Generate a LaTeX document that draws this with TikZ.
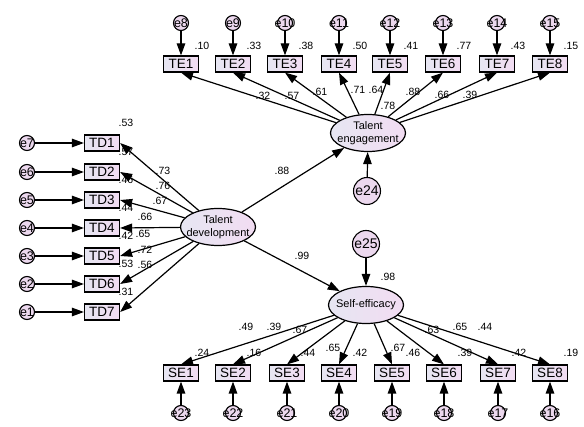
\documentclass[tikz,border=0pt]{standalone}
\usepackage{fontspec}
\setmainfont{Liberation Sans}
\usetikzlibrary{arrows.meta, shapes.geometric, positioning}

\definecolor{boxl}{HTML}{E6E6F2}
\definecolor{boxr}{HTML}{F2DCF2}
\definecolor{errc}{HTML}{ECD8EE}

\begin{document}
\begin{tikzpicture}[x=1pt, y=-1pt,
    obs/.style={draw, line width=1.2pt, left color=boxl, right color=boxr, minimum width=35pt, minimum height=16pt, inner sep=0pt, font=\fontsize{13.5}{13.5}\selectfont},
    err/.style={circle, draw, line width=1.1pt, fill=errc, minimum size=15pt, inner sep=0pt, font=\fontsize{12.5}{12.5}\selectfont},
    bigerr/.style={err, minimum size=27pt, font=\fontsize{14}{14}\selectfont},
    lat/.style={ellipse, draw, line width=1.2pt, left color=boxl, right color=boxr, minimum width=75pt, minimum height=37pt, inner sep=0pt, align=center, font=\fontsize{11}{13}\selectfont},
    num/.style={inner sep=0pt, font=\fontsize{10.5}{10.5}\selectfont},
    reg/.style={line width=1.2pt, -{Triangle[length=12pt, width=8.5pt]}}]
  \useasboundingbox (0,0) rectangle (584,427);

  % latent variables
  \node[lat] (tdl) at (218,227) {\makebox[0pt]{Talent}\\\makebox[0pt]{development}};
  \node[lat] (tel) at (368,133) {\makebox[0pt]{Talent}\\\makebox[0pt]{engagement}};
  \node[lat] (sel) at (366,305) {\makebox[0pt]{Self-efficacy}};
  \node[bigerr] (e24) at (367,191) {\makebox[0pt]{e24}};
  \node[bigerr] (e25) at (366,244) {\makebox[0pt]{e25}};
  \draw[reg] (e24) -- (tel);
  \draw[reg] (e25) -- (sel);
  \draw[reg] (tdl) -- (tel);
  \draw[reg] (tdl) -- (sel);
  \node[num] (p88) at (282,171) {.88};
  \node[num] (p99) at (302,256) {.99};
  \node[num] (r78) at (388,106) {.78};
  \node[num] (r98) at (388,277) {.98};

  % talent development items
  \foreach \i/\y/\r in {1/143/.53, 2/172/.57, 3/200/.46, 4/228/.44, 5/256/.42, 6/284/.53, 7/312/.31} {
    \pgfmathtruncatemacro{\e}{8-\i}
    \node[obs] (td\i) at (102,\y) {TD\i};
    \node[err] (e\e) at (27,\y) {\makebox[0pt]{e\e}};
    \draw[reg] (e\e) -- (td\i.west);
    \draw[reg] (tdl) -- (td\i.east);
    \node[num] (rtd\i) at (126,\y-20) {\r};
  }
  \foreach \i/\x/\y/\l in {1/163/171/.73, 2/163/186/.76, 3/160/201/.67, 4/145/217/.66, 5/143/234/.65, 6/145/250/.72, 7/145/265/.56}
    \node[num] (ltd\i) at (\x,\y) {\l};

  % talent engagement items
  \foreach \i/\x/\r in {1/181/.10, 2/233/.33, 3/285/.38, 4/339/.50, 5/390/.41, 6/443/.77, 7/497/.43, 8/550/.15} {
    \pgfmathtruncatemacro{\e}{7+\i}
    \node[obs] (te\i) at (\x,64) {TE\i};
    \node[err] (e\e) at (\x,23) {\makebox[0pt]{e\e}};
    \draw[reg] (e\e) -- (te\i.north);
    \draw[reg] (tel) -- (te\i.south);
    \node[num] (rte\i) at (\x+21,46) {\r};
  }
  \foreach \i/\x/\y/\l in {1/263/96/.32, 2/292/96/.57, 3/320/92/.61, 4/358/90/.71, 5/376/90/.64, 6/413/92/.88, 7/442/95/.66, 8/470/95/.39}
    \node[num] (lte\i) at (\x,\y) {\l};

  % self-efficacy items
  \foreach \i/\x/\r in {1/181/.24, 2/233/.16, 3/287/.44, 4/339/.42, 5/392/.46, 6/444/.39, 7/498/.42, 8/550/.19} {
    \pgfmathtruncatemacro{\e}{24-\i}
    \node[obs] (se\i) at (\x,373) {SE\i};
    \node[err] (e\e) at (\x,413) {\makebox[0pt]{e\e}};
    \draw[reg] (e\e) -- (se\i.south);
    \draw[reg] (sel) -- (se\i.north);
    \node[num] (rse\i) at (\x+21,353) {\r};
  }
  \foreach \i/\x/\y/\l in {1/246/327/.49, 2/274/327/.39, 3/300/330/.67, 4/333/348/.65, 5/398/348/.67, 6/432/330/.63, 7/460/327/.65, 8/485/327/.44}
    \node[num] (lse\i) at (\x,\y) {\l};
\end{tikzpicture}
\end{document}
